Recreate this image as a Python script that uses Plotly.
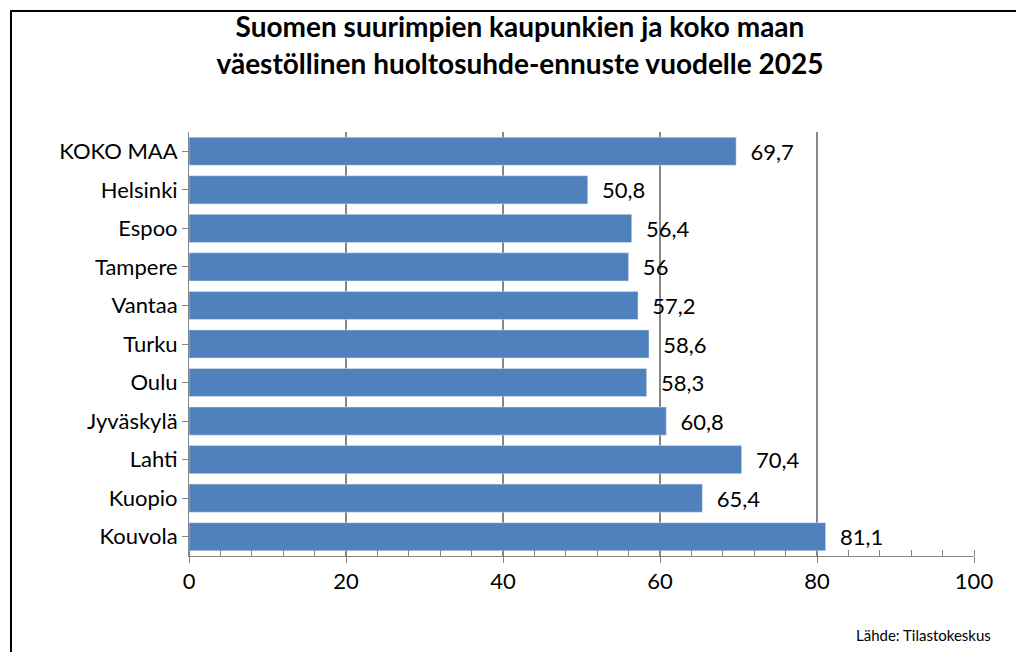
import plotly.graph_objects as go

cities = ["KOKO MAA", "Helsinki", "Espoo", "Tampere", "Vantaa", "Turku",
          "Oulu", "Jyväskylä", "Lahti", "Kuopio", "Kouvola"]
values = [69.7, 50.8, 56.4, 56, 57.2, 58.6, 58.3, 60.8, 70.4, 65.4, 81.1]
labels = ["69,7", "50,8", "56,4", "56", "57,2", "58,6", "58,3", "60,8", "70,4", "65,4", "81,1"]

font = "Lato, Noto Sans, sans-serif"

fig = go.Figure(go.Bar(
    y=cities, x=values, orientation="h", text=["  " + t for t in labels],
    textposition="outside", marker_color="#4F81BD",
    textfont=dict(size=22, color="black", family=font),
    cliponaxis=False,
))

fig.update_layout(
    width=1024, height=652,
    margin=dict(l=181, r=58, t=124, b=104, autoexpand=False),
    paper_bgcolor="white", plot_bgcolor="white",
    bargap=0.27, showlegend=False,
    title=dict(text="<b>Suomen suurimpien kaupunkien ja koko maan<br>väestöllinen huoltosuhde-ennuste vuodelle 2025</b>",
               x=0.5, xanchor="center", y=0.955, yanchor="top",
               font=dict(size=28, color="black", family=font)),
    font=dict(family=font, color="black"),
)
fig.update_xaxes(range=[0, 100], dtick=20, showgrid=True, gridcolor="#868686",
                 gridwidth=1.5, showline=True, linecolor="#868686",
                 ticks="outside", ticklen=6, tickcolor="#868686",
                 tickfont=dict(size=22), zeroline=False, automargin=False,
                 minor=dict(dtick=4, ticks="inside", ticklen=6, tickcolor="#868686", showgrid=False))
fig.update_yaxes(autorange="reversed", showline=True, linecolor="#868686",
                 ticks="outside", ticklen=6, tickcolor="#868686",
                 tickfont=dict(size=22), automargin=False)

fig.add_annotation(text="Lähde: Tilastokeskus", xref="paper", yref="paper",
                   x=1.024, y=-0.186, xanchor="right", yanchor="middle",
                   showarrow=False, font=dict(size=15, family=font))
fig.add_shape(type="rect", xref="paper", yref="paper",
              x0=-178 / 785, x1=1 + 54 / 785, y0=-100 / 424, y1=1 + 121 / 424,
              line=dict(color="black", width=2))

fig.write_html("out.html")
